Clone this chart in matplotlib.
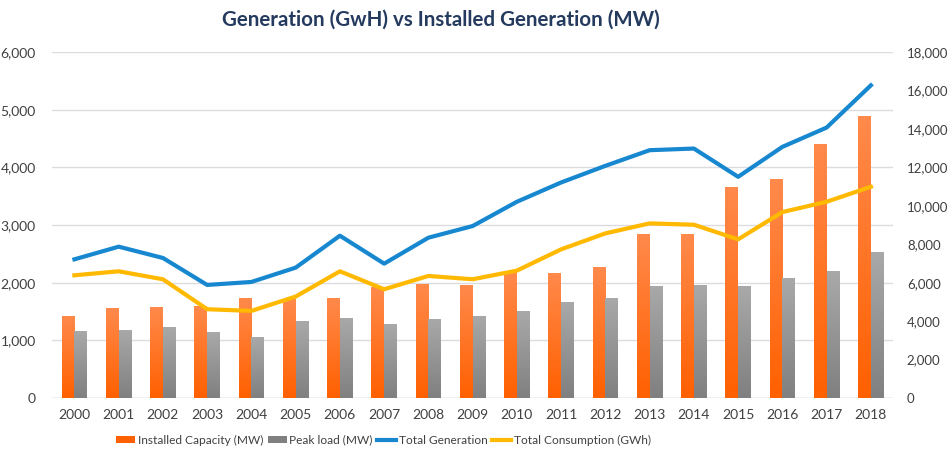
import matplotlib.pyplot as plt
import numpy as np
from matplotlib.ticker import FuncFormatter
from matplotlib.patches import Patch
from matplotlib.lines import Line2D
from matplotlib.colors import LinearSegmentedColormap
from matplotlib.font_manager import FontProperties

plt.rcParams["font.family"] = ["Lato", "DejaVu Sans"]

years = [str(y) for y in range(2000, 2019)]

installed_capacity = [1425, 1558, 1581, 1590, 1737, 1720, 1737, 1933, 1979, 1967,
                      2192, 2175, 2279, 2850, 2838, 3663, 3796, 4402, 4886]
peak_load = [1165, 1188, 1229, 1137, 1056, 1333, 1396, 1281, 1373, 1425,
             1506, 1667, 1737, 1944, 1961, 1938, 2083, 2198, 2527]
total_generation = [7218, 7876, 7288, 5885, 6041, 6785, 8447, 6993, 8343, 8950,
                    10213, 11217, 12082, 12896, 12982, 11511, 13069, 14073, 16271]
total_consumption = [6387, 6595, 6180, 4622, 4535, 5280, 6595, 5660, 6353, 6180,
                     6630, 7738, 8568, 9088, 9018, 8257, 9676, 10213, 10992]

ORANGE_TOP, ORANGE_BOT = "#FF8A4C", "#FF6000"
GRAY_TOP, GRAY_BOT = "#A9A9A9", "#808080"
BLUE = "#1788D0"
YELLOW = "#FFB900"
TEXT = "#404040"

fig = plt.figure(figsize=(9.51, 4.57), dpi=100)
ax = fig.add_axes([0.055, 0.129, 0.884, 0.757])
ax2 = ax.twinx()

x = np.arange(len(years))
w = 0.29


def gradient_bars(axis, xs, vals, top, bot):
    bars = axis.bar(xs, vals, width=w, color=bot, zorder=2)
    grad = np.linspace(0, 1, 256).reshape(-1, 1)
    cmap = LinearSegmentedColormap.from_list("g", [bot, top])
    for b in bars:
        bx, by = b.get_x(), b.get_y()
        bw, bh = b.get_width(), b.get_height()
        im = axis.imshow(grad, cmap=cmap, aspect="auto", origin="lower",
                         extent=[bx, bx + bw, by, by + bh], zorder=2.5)
        im.set_clip_path(b)
    return bars


gradient_bars(ax, x - w / 2, installed_capacity, ORANGE_TOP, ORANGE_BOT)
gradient_bars(ax, x + w / 2, peak_load, GRAY_TOP, GRAY_BOT)

ax2.plot(x, total_generation, color=BLUE, lw=3, zorder=3)
ax2.plot(x, total_consumption, color=YELLOW, lw=3, zorder=3)

ax.set_xlim(-0.5, len(years) - 0.5)
ax.set_ylim(0, 6000)
ax2.set_ylim(0, 18000)
ax.set_yticks(range(0, 6001, 1000))
ax2.set_yticks(range(0, 18001, 2000))
fmt = FuncFormatter(lambda v, p: f"{int(v):,}")
ax.yaxis.set_major_formatter(fmt)
ax2.yaxis.set_major_formatter(fmt)
ax.set_xticks(x)
ax.set_xticklabels(years)

ax.grid(axis="y", color="#DCDCE0", lw=1, zorder=0)
ax.set_axisbelow(True)
for a in (ax, ax2):
    for s in a.spines.values():
        s.set_visible(False)
    a.tick_params(length=0, labelsize=10, colors=TEXT)
ax.tick_params(axis="y", pad=12)
ax2.tick_params(axis="y", pad=10, labelsize=9.5)
ax.tick_params(axis="x", pad=8)
ax.axhline(0, color="#D0D0D6", lw=1, zorder=1)

fig.suptitle("Generation (GwH) vs Installed Generation (MW)", x=0.464, y=0.978,
             fontsize=14.8, fontweight="bold", color="#243A5E")

handles = [
    Patch(facecolor=ORANGE_BOT, label="Installed Capacity (MW)"),
    Patch(facecolor=GRAY_BOT, label="Peak load (MW)"),
    Line2D([], [], color=BLUE, lw=3, label="Total Generation"),
    Line2D([], [], color=YELLOW, lw=3, label="Total Consumption (GWh)"),
]
legend_font = FontProperties(family=["Liberation Sans Narrow", "Lato"], size=8.6)
fig.legend(handles=handles, loc="center left", bbox_to_anchor=(0.122, 0.037), ncol=4,
           frameon=False, prop=legend_font, handlelength=1.6, handleheight=0.6,
           handletextpad=0.2, columnspacing=0.4, labelcolor=TEXT,
           borderpad=0, borderaxespad=0)

fig.savefig("out.png", dpi=100)
